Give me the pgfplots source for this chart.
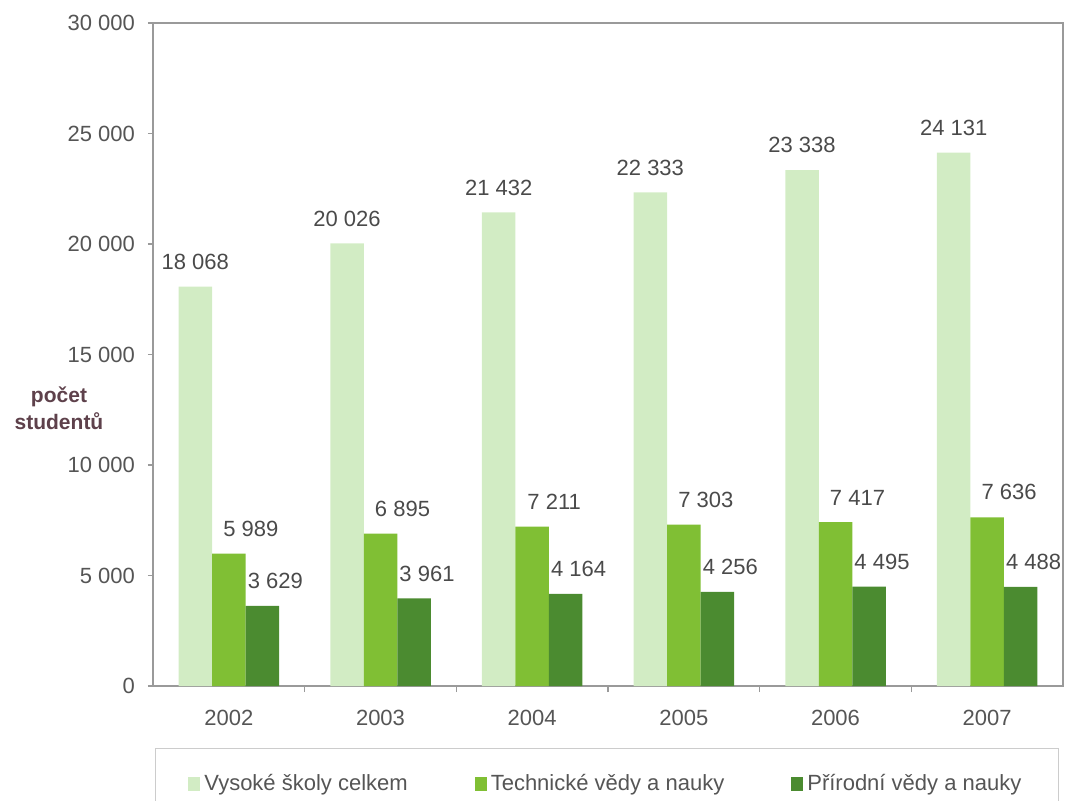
\documentclass[border=0pt]{standalone}
\usepackage{fontspec}
\setmainfont{Liberation Sans}
\usepackage{pgfplots}
\pgfplotsset{compat=1.18}
\definecolor{cLight}{HTML}{D2ECC4}
\definecolor{cMed}{HTML}{80BF34}
\definecolor{cDark}{HTML}{4B8B30}
\definecolor{txt}{HTML}{555555}
\definecolor{txtd}{HTML}{4A4A4A}
\definecolor{lab}{HTML}{5E414B}
\definecolor{axisgray}{HTML}{9A9A9A}
\begin{document}
\begin{tikzpicture}
\begin{axis}[
  at={(0,0)}, anchor=south west,
  scale only axis, width=455pt, height=331.5pt,
  xmin=-0.5, xmax=5.5, ymin=0, ymax=30000,
  ybar=0pt, bar width=16.75pt,
  xtick={0,...,5}, xticklabels={2002,2003,2004,2005,2006,2007},
  xtick pos=bottom, ytick pos=left,
  major x tick style={draw=none},
  minor xtick={0.5,1.5,2.5,3.5,4.5},
  ytick={0,5000,...,30000},
  tick align=outside, major tick length=2.5pt, minor tick length=3pt,
  axis line style={axisgray, line width=0.7pt},
  tick style={axisgray, line width=0.6pt},
  scaled y ticks=false,
  /pgf/number format/1000 sep={\ },
  /pgf/number format/assume math mode=true,
  ticklabel style={font=\fontsize{11}{13}\selectfont, text=txt},
  xticklabel style={yshift=-6pt},
  yticklabel style={xshift=-3pt},
  nodes near coords,
  every node near coord/.append style={font=\fontsize{11}{13}\selectfont, text=txtd, yshift=5pt},
  every axis y label/.style={at={(axis description cs:-0.1033,0.419)}, anchor=center, align=center,
     font=\bfseries\fontsize{10.5}{13.5}\selectfont, text=lab},
  ylabel={počet\\studentů},
  legend columns=3,
  legend style={at={(axis description cs:0.0022,-0.0935)}, anchor=north west,
     draw=gray!40, inner xsep=16.5pt, inner ysep=11pt,
     font=\fontsize{11}{13}\selectfont, text=txt,
     /tikz/every even column/.append style={column sep=31.5pt}},
  legend image code/.code={\fill[#1] (0pt,-3.5pt) rectangle (6pt,3.5pt);},
]
\addplot[fill=cLight, draw=none] coordinates {(0,18068) (1,20026) (2,21432) (3,22333) (4,23338) (5,24131)};
\addplot[fill=cMed, draw=none, every node near coord/.append style={xshift=11pt}] coordinates {(0,5989) (1,6895) (2,7211) (3,7303) (4,7417) (5,7636)};
\addplot[fill=cDark, draw=none, every node near coord/.append style={xshift=6.5pt}] coordinates {(0,3629) (1,3961) (2,4164) (3,4256) (4,4495) (5,4488)};
\legend{Vysoké školy celkem, Technické vědy a nauky, Přírodní vědy a nauky}
\end{axis}
\pgfresetboundingbox
\path[use as bounding box] (-76.5pt,-57pt) rectangle (458.5pt,343pt);
\end{tikzpicture}
\end{document}
